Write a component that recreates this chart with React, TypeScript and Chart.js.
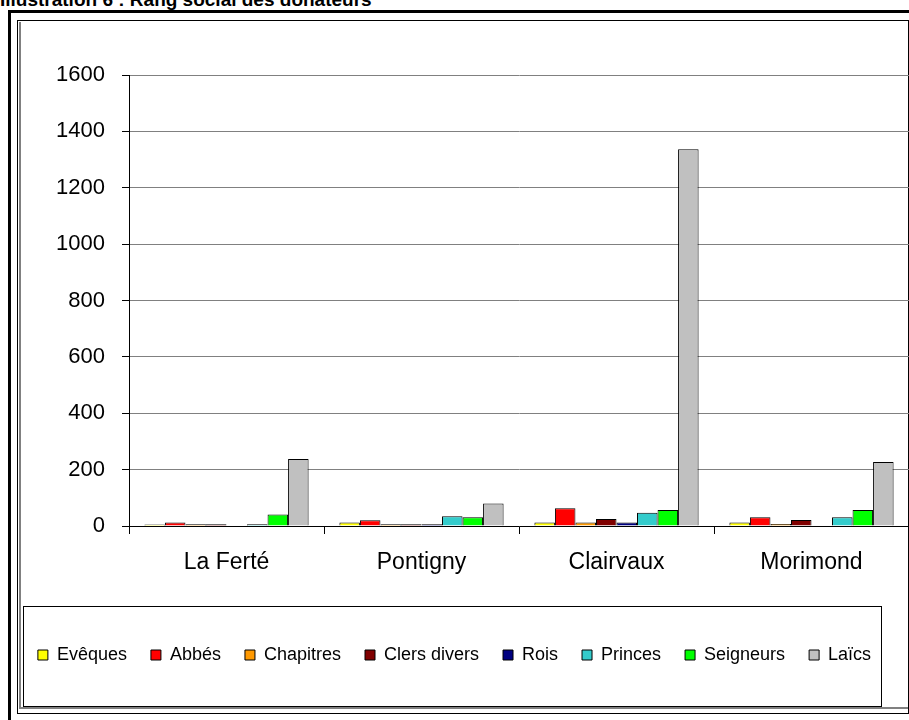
import React, { useEffect, useRef } from "react";
import { Chart, registerables } from "chart.js";

Chart.register(...registerables);

const categories = ["La Ferté", "Pontigny", "Clairvaux", "Morimond"];
const seriesNames = ["Evêques", "Abbés", "Chapitres", "Clers divers", "Rois", "Princes", "Seigneurs", "Laïcs"];
const eveques = [5, 12, 12, 12];
const abbes = [12, 20, 63, 31];
const chapitres = [6, 6, 12, 7];
const clersDivers = [6, 6, 25, 21];
const rois = [0, 6, 12, 0];
const princes = [6, 35, 47, 31];
const seigneurs = [41, 31, 57, 57];
const laics = [238, 80, 1337, 227];
const seriesColors = ["#FFFF00", "#FF0000", "#FF9900", "#800000", "#000080", "#33CCCC", "#00FF00", "#C0C0C0"];
const yMin = 0;
const yMax = 1600;
const yStep = 200;
const titleText = "Illustration 6 : Rang social des donateurs";

const FONT = "'Liberation Sans', Arial, sans-serif";

const legendFrame = {
  id: "legendFrame",
  afterDraw(chart: any) {
    const ctx = chart.ctx;
    ctx.save();
    ctx.strokeStyle = "#000";
    ctx.lineWidth = 1;
    ctx.strokeRect(23.5, 606.5, 858, 100);
    ctx.restore();
  },
};

export default function App() {
  const ref = useRef<HTMLCanvasElement | null>(null);

  useEffect(() => {
    if (!ref.current) return;
    const values = [eveques, abbes, chapitres, clersDivers, rois, princes, seigneurs, laics];
    const chart = new Chart(ref.current, {
      type: "bar",
      data: {
        labels: categories,
        datasets: seriesNames.map((name, i) => ({
          label: name,
          data: values[i],
          backgroundColor: seriesColors[i],
          borderColor: "#000",
          borderWidth: 1,
          categoryPercentage: 0.842,
          barPercentage: 1,
        })),
      },
      options: {
        responsive: false,
        animation: false,
        devicePixelRatio: 1,
        layout: { padding: { top: 75, left: 0, right: 0, bottom: 46 } },
        plugins: {
          legend: {
            position: "bottom",
            labels: {
              boxWidth: 10,
              boxHeight: 10,
              padding: 24,
              color: "#000",
              font: { family: FONT, size: 18 },
            },
          },
          tooltip: { enabled: false },
          title: { display: false },
        },
        scales: {
          x: {
            afterFit: (s: any) => {
              s.height = 96;
            },
            grid: {
              display: true,
              drawOnChartArea: false,
              drawTicks: true,
              tickLength: 8,
              color: "#000",
              offset: true,
            },
            border: { display: true, color: "#000", width: 1 },
            ticks: {
              color: "#000",
              padding: 15,
              font: { family: FONT, size: 23 },
              maxRotation: 0,
            },
          },
          y: {
            min: yMin,
            max: yMax,
            afterFit: (s: any) => {
              s.width = 129;
            },
            grid: {
              color: "#808080",
              tickColor: "#000",
              tickLength: 7,
              lineWidth: 1,
            },
            border: { display: true, color: "#000", width: 1 },
            ticks: {
              stepSize: yStep,
              color: "#000",
              padding: 17,
              font: { family: FONT, size: 22 },
              callback: (v: any) => String(v),
            },
          },
        },
      },
      plugins: [legendFrame],
    });
    return () => chart.destroy();
  }, []);

  return (
    <div
      style={{
        position: "absolute",
        left: 0,
        top: 0,
        width: 909,
        height: 720,
        overflow: "hidden",
        background: "#fff",
      }}
    >
      <div
        style={{
          position: "absolute",
          left: 0,
          top: -10,
          fontFamily: FONT,
          fontWeight: "bold",
          fontSize: 19,
          lineHeight: "19px",
          whiteSpace: "nowrap",
          color: "#000",
        }}
      >
        {titleText}
      </div>
      <div
        style={{
          position: "absolute",
          left: 8,
          top: 10,
          width: 1000,
          height: 1000,
          border: "3px solid #000",
          boxSizing: "border-box",
        }}
      />
      <div
        style={{
          position: "absolute",
          left: 17,
          top: 20,
          width: 892,
          height: 694,
          border: "1px solid #000",
          boxSizing: "border-box",
        }}
      />
      <div
        style={{
          position: "absolute",
          left: 19,
          top: 22,
          width: 889,
          height: 687,
          borderLeft: "2px solid #808080",
          borderBottom: "2px solid #808080",
          boxSizing: "border-box",
        }}
      />
      <canvas
        ref={ref}
        width={909}
        height={720}
        style={{ position: "absolute", left: 0, top: 0, width: 909, height: 720, display: "block" }}
      />
    </div>
  );
}
